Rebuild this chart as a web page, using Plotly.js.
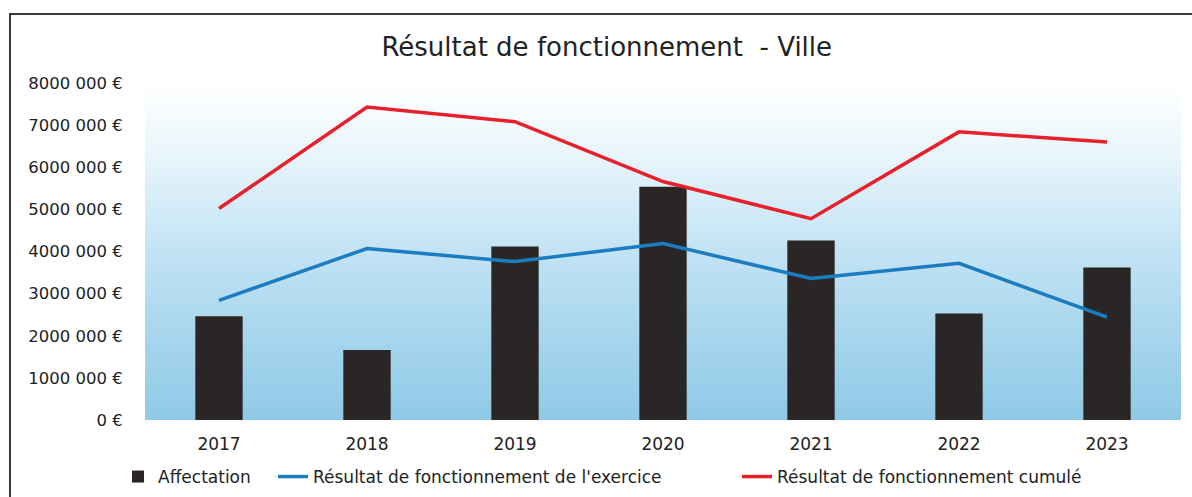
<!DOCTYPE html>
<html>
<head>
<meta charset="utf-8">
<script src="https://cdn.plot.ly/plotly-3.0.1.min.js"></script>
<style>
html,body{margin:0;padding:0;background:#fff;overflow:hidden;}
#frame{position:absolute;left:9px;top:13px;width:1250px;height:560px;border:2px solid #3a3a3a;box-sizing:border-box;pointer-events:none;z-index:5;}
#chart{position:absolute;left:0;top:0;width:1192px;height:497px;}
</style>
</head>
<body>
<div id="chart"></div>
<div id="frame"></div>
<script>
const years = ['2017','2018','2019','2020','2021','2022','2023'];
const affectation = [2460000, 1660000, 4120000, 5540000, 4260000, 2530000, 3620000];
const resultatExercice = [2840000, 4070000, 3760000, 4190000, 3360000, 3720000, 2440000];
const resultatCumule = [5020000, 7430000, 7080000, 5660000, 4780000, 6840000, 6600000];
const tickValues = [0,1000000,2000000,3000000,4000000,5000000,6000000,7000000,8000000];
const tickLabels = ['0 €','1000 000 €','2000 000 €','3000 000 €','4000 000 €','5000 000 €','6000 000 €','7000 000 €','8000 000 €'];

const gradSvg = '<svg xmlns="http://www.w3.org/2000/svg" width="100" height="100" preserveAspectRatio="none">' +
  '<defs><linearGradient id="g" x1="0" y1="0" x2="0" y2="1">' +
  '<stop offset="0" stop-color="#ffffff"/>' +
  '<stop offset="0.2" stop-color="#eaf6fc"/>' +
  '<stop offset="0.5" stop-color="#c2e3f4"/>' +
  '<stop offset="0.8" stop-color="#a2d3ec"/>' +
  '<stop offset="1" stop-color="#90cae6"/>' +
  '</linearGradient></defs><rect width="100" height="100" fill="url(#g)"/></svg>';
const gradUrl = 'data:image/svg+xml;base64,' + btoa(gradSvg);

const font = 'DejaVu Sans, Open Sans, sans-serif';
const legendFont = {family:font, size:17, color:'#222'};

const traces = [
  {type:'bar', name:'Affectation', x:years, y:affectation,
   marker:{color:'#2b2626'}, width:0.32, legend:'legend'},
  {type:'scatter', mode:'lines', name:"Résultat de fonctionnement de l'exercice",
   x:years, y:resultatExercice, line:{color:'#1b7cc2', width:3.5}, legend:'legend2'},
  {type:'scatter', mode:'lines', name:'Résultat de fonctionnement cumulé',
   x:years, y:resultatCumule, line:{color:'#e8202c', width:3.5}, legend:'legend3'}
];

function leg(px){
  return {orientation:'h', xref:'container', yref:'container',
          x:px/1192, xanchor:'left', y:1-477/497, yanchor:'middle',
          font:legendFont, bgcolor:'rgba(0,0,0,0)'};
}

const layout = {
  width:1192, height:497,
  margin:{l:145, r:11, t:83, b:77, autoexpand:false},
  paper_bgcolor:'rgba(0,0,0,0)',
  plot_bgcolor:'rgba(0,0,0,0)',
  font:{family:font, color:'#333', size:13},
  title:{text:'Résultat de fonctionnement  - Ville', x:0.509, xanchor:'center', y:0.905, yanchor:'middle',
         font:{family:font, size:26, color:'#222'}},
  showlegend:true,
  legend:leg(118),
  legend2:leg(273),
  legend3:leg(737),
  xaxis:{type:'category', showgrid:false, zeroline:false, showline:false,
         ticks:'outside', ticklen:9, tickcolor:'rgba(0,0,0,0)',
         tickfont:{family:font, size:17, color:'#222'}},
  yaxis:{range:[0,8000000], tickvals:tickValues, ticktext:tickLabels,
         showgrid:false, zeroline:false, showline:false,
         ticks:'outside', ticklen:18, tickcolor:'rgba(0,0,0,0)',
         tickfont:{family:font, size:16.5, color:'#222'}},
  images:[{source:gradUrl, xref:'paper', yref:'paper', x:0, y:1, sizex:1, sizey:1,
           sizing:'stretch', layer:'below', xanchor:'left', yanchor:'top'}]
};

Plotly.newPlot('chart', traces, layout, {displayModeBar:false, staticPlot:true});
</script>
</body>
</html>
